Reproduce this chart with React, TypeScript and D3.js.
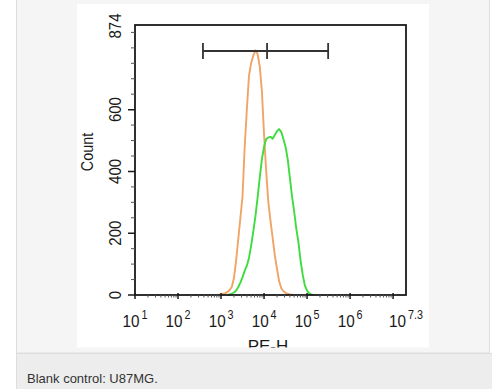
import * as d3 from "d3";

// log10 bin centres and counts
const controlLog = [2.95, 3.0, 3.05, 3.1, 3.15, 3.2, 3.25, 3.3, 3.35, 3.4, 3.45, 3.5, 3.55, 3.6, 3.65, 3.7, 3.75, 3.8, 3.85, 3.9, 3.95, 4.0, 4.05, 4.1, 4.15, 4.2, 4.25, 4.3, 4.35, 4.4, 4.45, 4.5, 4.55, 4.6, 4.65, 4.7];
const controlCount = [0, 2, 4, 6, 10, 16, 26, 55, 110, 180, 250, 320, 480, 600, 710, 750, 775, 792, 780, 740, 660, 520, 400, 300, 240, 185, 130, 85, 45, 22, 12, 7, 4, 2, 1, 0];

const sampleLog = [3.15, 3.2, 3.25, 3.3, 3.35, 3.4, 3.45, 3.5, 3.55, 3.6, 3.65, 3.7, 3.75, 3.8, 3.85, 3.9, 3.95, 4.0, 4.05, 4.1, 4.15, 4.2, 4.25, 4.3, 4.35, 4.4, 4.45, 4.5, 4.55, 4.6, 4.65, 4.7, 4.75, 4.8, 4.85, 4.9, 4.95, 5.0, 5.05, 5.1, 5.15];
const sampleCount = [0, 2, 4, 8, 14, 26, 40, 58, 78, 95, 120, 160, 205, 255, 315, 380, 440, 480, 505, 510, 512, 506, 518, 530, 537, 528, 505, 480, 440, 380, 320, 270, 215, 170, 110, 65, 30, 14, 5, 2, 0];

const gateLog = [2.58, 4.07, 5.49];

const yTicks = [0, 200, 400, 600];
const yTopLabel = 874;
const decades = [1, 2, 3, 4, 5, 6, 7];
const xLabels = ["1", "2", "3", "4", "5", "6", "7.3"];
const xLabelLog = [1, 2, 3, 4, 5, 6, 7.3];

const font = "'Liberation Sans', Arial, sans-serif";

export default function App() {
  const left = 135, right = 406, top = 25, bottom = 295;
  const x = d3.scaleLinear().domain([1, 7.3]).range([left, right]);
  const y = d3.scaleLinear().domain([0, 874]).range([bottom, top]);

  const line = d3.line<[number, number]>().x((d) => x(d[0])).y((d) => y(d[1]));
  const control = line(controlLog.map((v, i) => [v, controlCount[i]]));
  const sample = line(sampleLog.map((v, i) => [v, sampleCount[i]]));

  const minorY = d3.range(50, 874, 50).filter((v) => !yTicks.includes(v));
  const minorX: number[] = [];
  decades.forEach((d) => {
    for (let k = 2; k <= 9; k++) {
      const v = d + Math.log10(k);
      if (v < 7.3) minorX.push(v);
    }
  });

  const gateY = 51;

  return (
    <svg width={492} height={389} style={{ position: "absolute", left: 0, top: 0 }} fontFamily={font}>
      <defs>
        <clipPath id="img">
          <rect x={77} y={4} width={352} height={343.5} />
        </clipPath>
      </defs>
      <rect x={0} y={0} width={492} height={389} fill="#ffffff" />
      <rect x={16.5} y={-1} width={473} height={354} fill="#f4f5f4" stroke="#dcdddc" />
      <rect x={16.5} y={353.5} width={476} height={40} fill="#ecedec" stroke="#dcdddc" />
      <text x={27} y={383} fontSize={13} fill="#333">Blank control: U87MG.</text>

      <g clipPath="url(#img)">
        <rect x={77} y={4} width={352} height={344} fill="#ffffff" />

        <path d={control ?? ""} fill="none" stroke="#f0a466" strokeWidth={1.9} strokeLinejoin="round" />
        <path d={sample ?? ""} fill="none" stroke="#3fdc3f" strokeWidth={1.9} strokeLinejoin="round" />

        {/* frame */}
        <rect x={left} y={top} width={right - left} height={bottom - top} fill="none" stroke="#1a1a1a" strokeWidth={1.8} />

        {/* y ticks */}
        {yTicks.map((v) => (
          <g key={`yt${v}`}>
            <line x1={left - 7} x2={left} y1={y(v)} y2={y(v)} stroke="#1a1a1a" strokeWidth={1.5} />
            <text transform={`translate(121,${y(v)}) rotate(-90) scale(0.88,1)`} textAnchor="middle" fontSize={17} fill="#1a1a1a">{v}</text>
          </g>
        ))}
        {minorY.map((v) => (
          <line key={`ym${v}`} x1={left - 4} x2={left} y1={y(v)} y2={y(v)} stroke="#555" strokeWidth={1} />
        ))}
        <text transform={`translate(121,${y(yTopLabel) + 1}) rotate(-90) scale(0.88,1)`} textAnchor="middle" fontSize={17} fill="#1a1a1a">{yTopLabel}</text>
        <text transform={`translate(93,152) rotate(-90) scale(0.9,1)`} textAnchor="middle" fontSize={16} fill="#1a1a1a">Count</text>

        {/* x ticks */}
        {decades.map((d) => (
          <line key={`xt${d}`} x1={x(d)} x2={x(d)} y1={bottom - 2} y2={bottom + 4} stroke="#1a1a1a" strokeWidth={1.5} />
        ))}
        {minorX.map((v, i) => (
          <line key={`xm${i}`} x1={x(v)} x2={x(v)} y1={bottom} y2={bottom + 2.5} stroke="#555" strokeWidth={1} />
        ))}
        {xLabelLog.map((v, i) => (
          <text key={`xl${i}`} transform={`translate(${x(v)},327) scale(0.9,1)`} textAnchor="middle" fontSize={17} fill="#1a1a1a">
            10<tspan dx={2} dy={-8} fontSize={12}>{xLabels[i]}</tspan>
          </text>
        ))}
        <text x={268} y={351.5} textAnchor="middle" fontSize={17} fill="#1a1a1a">PE-H</text>

        {/* marker gate */}
        <line x1={x(gateLog[0])} x2={x(gateLog[2])} y1={gateY} y2={gateY} stroke="#333" strokeWidth={1.8} />
        {gateLog.map((v) => (
          <line key={`g${v}`} x1={x(v)} x2={x(v)} y1={gateY - 8} y2={gateY + 8} stroke="#333" strokeWidth={1.8} />
        ))}
      </g>
    </svg>
  );
}
